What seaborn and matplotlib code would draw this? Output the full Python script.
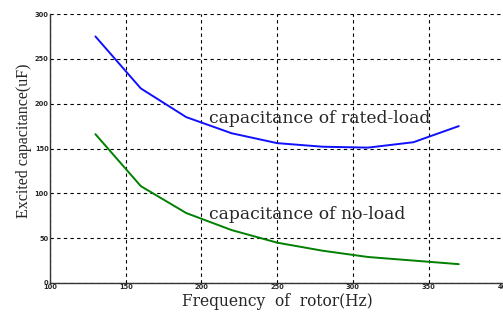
import matplotlib
matplotlib.use("Agg")
import matplotlib.pyplot as plt
import seaborn as sns
import pandas as pd

freq = [130, 160, 190, 220, 250, 280, 310, 340, 370]
rated_load = [275, 217, 185, 167, 156, 152, 151, 157, 175]
no_load = [166, 108, 78, 59, 45, 36, 29, 25, 21]
x_ticks = [100, 150, 200, 250, 300, 350, 400]
y_ticks = [0, 50, 100, 150, 200, 250, 300]

sns.set_style("white")
plt.rcParams['font.family'] = ['Liberation Serif', 'DejaVu Serif']

df = pd.DataFrame({
    "freq": freq + freq,
    "cap": rated_load + no_load,
    "series": ["rated"] * len(freq) + ["noload"] * len(freq),
})

fig = plt.figure(figsize=(5.03, 3.12), dpi=100)
ax = fig.add_axes([0.0994, 0.093, 0.903, 0.862])
sns.lineplot(data=df, x="freq", y="cap", hue="series",
             palette={"rated": "#1010ff", "noload": "#008000"},
             linewidth=1.4, legend=False, ax=ax, sort=False)

ax.set_xlim(100, 400)
ax.set_ylim(0, 300)
ax.set_xticks(x_ticks)
ax.set_yticks(y_ticks)
tick_font = dict(fontsize=4.8, fontweight="bold", family="DejaVu Sans")
ax.set_xticklabels([str(t) for t in x_ticks], **tick_font)
ax.set_yticklabels([str(t) for t in y_ticks], **tick_font)
ax.tick_params(axis="both", length=0, pad=1)
ax.grid(True, color="black", linestyle=(0, (3, 3)), linewidth=0.8)
for s in ["top", "right"]:
    ax.spines[s].set_visible(False)
for s in ["left", "bottom"]:
    ax.spines[s].set_color("#333333")
    ax.spines[s].set_linewidth(1.0)

ax.set_xlabel("Frequency  of  rotor(Hz)", fontsize=11.2, labelpad=2, family="DejaVu Serif")
ax.set_ylabel("Excited capacitance(uF)", fontsize=11.5)
ax.yaxis.set_label_coords(-0.040, 0.528)

ax.text(205, 184, "capacitance of rated-load", fontsize=12.3, va="center", ha="left",
        family="DejaVu Serif")
ax.text(205, 76, "capacitance of no-load", fontsize=12.3, va="center", ha="left",
        family="DejaVu Serif")

fig.savefig("out.png", dpi=100)
